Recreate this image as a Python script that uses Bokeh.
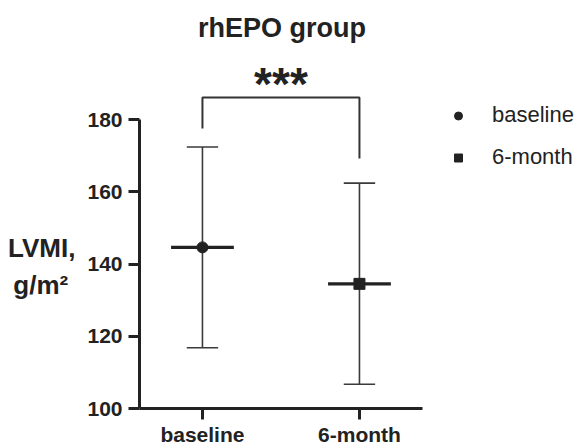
from bokeh.plotting import figure
from bokeh.models import FixedTicker, Label, Legend, LegendItem, ColumnDataSource
from bokeh.embed import file_html
from bokeh.resources import INLINE

# ---- data ----
groups = ["baseline", "6-month"]
means = [144.6, 134.5]
upper = [172.4, 162.4]
lower = [116.8, 106.7]
markers = ["circle", "square"]
y_ticks = [100, 120, 140, 160, 180]
bracket_top = 186.1
bracket_left_end = 177.5
bracket_right_end = 169.2
title_text = "rhEPO group"
sig_text = "***"
ylabel_lines = ["LVMI,", "g/m\u00b2"]

# ---- layout ----
W, H = 580, 448
B_LEFT, B_BOTTOM, B_TOP = 139, 40, 13
FONT = "Liberation Sans"
INK = "#222222"
frame_w = W - B_LEFT
frame_h = H - B_BOTTOM - B_TOP
px_x = 157.0
px_y = 3.6125
x0 = -0.401
y0 = 100

xs = list(range(len(groups)))
src = ColumnDataSource(dict(x=xs, m=means, up=upper, lo=lower,
                            xl=[v - 0.1 for v in xs], xr=[v + 0.1 for v in xs],
                            ml=[v - 0.2 for v in xs], mr=[v + 0.2 for v in xs]))

p = figure(width=W, height=H, x_range=(x0, x0 + frame_w / px_x),
           y_range=(y0, y0 + frame_h / px_y),
           output_backend="svg", toolbar_location=None,
           min_border_left=B_LEFT, min_border_right=0, min_border_top=B_TOP,
           min_border_bottom=B_BOTTOM)
p.outline_line_color = None
p.xgrid.grid_line_color = None
p.ygrid.grid_line_color = None

for ax in (p.xaxis[0], p.yaxis[0]):
    ax.axis_line_width = 3
    ax.axis_line_color = INK
    ax.major_tick_line_width = 3
    ax.major_tick_line_color = INK
    ax.major_tick_in = 0
    ax.minor_tick_line_color = None
    ax.major_label_text_font = FONT
    ax.major_label_text_font_style = "bold"
    ax.major_label_text_font_size = "21px"
    ax.major_label_text_color = INK

p.yaxis.bounds = (100, 180)
p.yaxis.ticker = FixedTicker(ticks=y_ticks)
p.yaxis.major_tick_out = 11
p.yaxis.major_label_standoff = 6
# horizontal two-line label; leading blank lines shift it down to the bounds' middle,
# trailing nbsp centres the shorter second line under the first
pad = "\u00a0"
p.yaxis.axis_label = "\n".join([pad, pad, pad, ylabel_lines[0], ylabel_lines[1] + pad])
p.yaxis.axis_label_orientation = "horizontal"
p.yaxis.axis_label_standoff = 9
p.yaxis.axis_label_text_font = FONT
p.yaxis.axis_label_text_font_style = "bold"
p.yaxis.axis_label_text_font_size = "26px"
p.yaxis.axis_label_text_color = INK
p.yaxis.axis_label_text_align = "center"
p.yaxis.axis_label_text_line_height = 1.24

p.xaxis.bounds = (x0, x0 + 283 / px_x)
p.xaxis.ticker = FixedTicker(ticks=xs)
p.xaxis.major_label_overrides = {i: g for i, g in zip(xs, groups)}
p.xaxis.major_tick_out = 11
p.xaxis.major_label_standoff = 3

# error bars
p.segment(x0="x", y0="lo", x1="x", y1="up", source=src, line_color="#3a3a3a", line_width=1.6)
p.segment(x0="xl", y0="up", x1="xr", y1="up", source=src, line_color="#3a3a3a", line_width=1.6)
p.segment(x0="xl", y0="lo", x1="xr", y1="lo", source=src, line_color="#3a3a3a", line_width=1.6)
p.segment(x0="ml", y0="m", x1="mr", y1="m", source=src, line_color=INK, line_width=3.2)

items = []
for i, g in enumerate(groups):
    r = p.scatter(x=[xs[i]], y=[means[i]], marker=markers[i], size=11,
                  fill_color=INK, line_color=INK)
    items.append(LegendItem(label=g, renderers=[r]))

# significance bracket
p.line(x=[xs[0], xs[0], xs[1], xs[1]],
       y=[bracket_left_end, bracket_top, bracket_top, bracket_right_end],
       line_color="#333333", line_width=2)
p.add_layout(Label(x=(xs[0] + xs[1]) / 2, y=bracket_top + 13 / px_y, text=sig_text,
                   text_align="center", text_baseline="alphabetic",
                   text_font=FONT, text_font_style="bold", text_font_size="46px",
                   text_color=INK))

# title
p.add_layout(Label(x=142.5, y=381, x_units="screen", y_units="screen", text=title_text,
                   text_align="center", text_baseline="alphabetic",
                   text_font=FONT, text_font_style="bold", text_font_size="27px",
                   text_color=INK))

legend = Legend(items=items, location=(309, 238), glyph_width=20, glyph_height=25,
                label_height=25, label_standoff=24, spacing=16, padding=0, margin=0,
                border_line_color=None, background_fill_alpha=0,
                label_text_font=FONT, label_text_font_size="22px", label_text_color=INK)
p.add_layout(legend)

open("out.html", "w").write(file_html(p, INLINE))
